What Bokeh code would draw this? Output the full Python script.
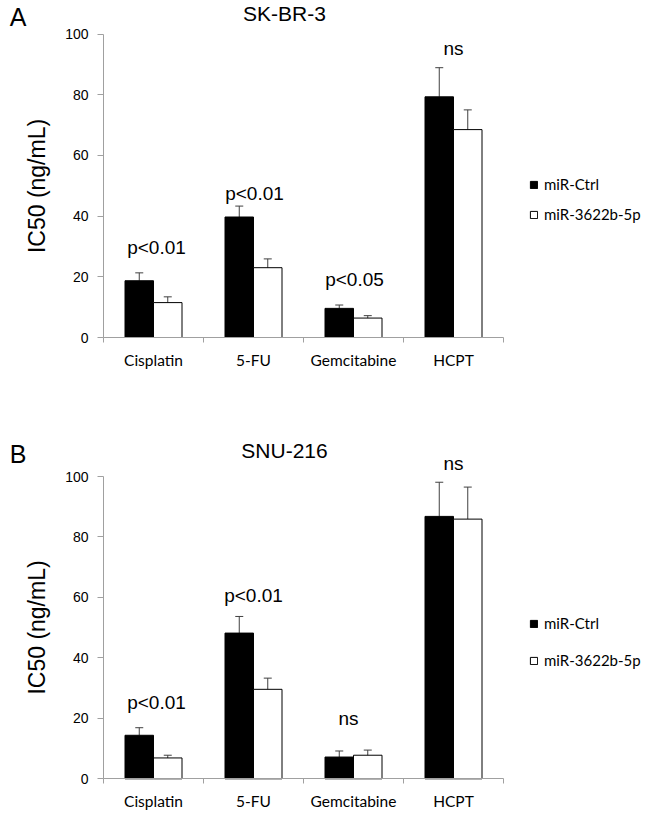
from bokeh.plotting import figure
from bokeh.models import (Range1d, FixedTicker, ColumnDataSource, Whisker, TeeHead,
                          Label, LabelSet, Legend, LegendItem)
from bokeh.core.properties import value
from bokeh.layouts import column
from bokeh.embed import file_html
from bokeh.resources import INLINE
import numpy as np

# ---------------- data ----------------
categories = ["Cisplatin", "5-FU", "Gemcitabine", "HCPT"]
series_names = ["miR-Ctrl", "miR-3622b-5p"]
y_ticks = [0, 20, 40, 60, 80, 100]

# Panel A: SK-BR-3
a_title = "SK-BR-3"
a_ctrl = [18.7, 39.7, 9.6, 79.3]
a_ctrl_err = [2.6, 3.6, 1.1, 9.6]
a_mir = [11.5, 23.0, 6.4, 68.5]
a_mir_err = [1.9, 2.9, 0.8, 6.5]
a_sig = ["p<0.01", "p<0.01", "p<0.05", "ns"]

# Panel B: SNU-216
b_title = "SNU-216"
b_ctrl = [14.4, 48.2, 7.2, 86.8]
b_ctrl_err = [2.5, 5.5, 2.0, 11.3]
b_mir = [6.9, 29.6, 7.8, 85.9]
b_mir_err = [0.9, 3.7, 1.7, 10.6]
b_sig = ["p<0.01", "p<0.01", "ns", "ns"]

# ---------------- layout / style ----------------
BAR_W = 0.285
ERR_COLOR = "#404040"
AXIS_COLOR = "#a0a0a0"
TXT_FONT = "Liberation Sans"
CAT_FONT = "Lato"
FIG_W = 648
PAGE_OFF = 0          # page x of figure left edge
AXIS_X = 103          # page x of the y axis
PX_PER_CAT = 100      # pixels per category


def make_panel(letter, title, ctrl, ctrl_err, mir, mir_err, sig, geom):
    n = len(categories)
    centers = np.arange(n) + 0.5
    # ranges chosen so that the frame fills the whole figure
    x0 = (PAGE_OFF - AXIS_X) / PX_PER_CAT
    x1 = (PAGE_OFF + FIG_W - AXIS_X) / PX_PER_CAT
    ppu = geom["px_per_unit"]
    y1 = (geom["zero_y"] - geom["page_top"]) / ppu
    y0 = (geom["zero_y"] - geom["page_top"] - geom["height"]) / ppu
    p = figure(width=FIG_W, height=geom["height"],
               x_range=Range1d(x0, x1), y_range=Range1d(y0, y1),
               output_backend="svg", toolbar_location=None,
               min_border=0)
    p.outline_line_color = None
    p.xgrid.visible = False
    p.ygrid.visible = False
    p.background_fill_color = "white"

    # x axis: category labels at centres, separators as minor ticks
    xa = p.xaxis[0]
    xa.fixed_location = 0
    xa.bounds = (0, n)
    xa.ticker = FixedTicker(ticks=list(centers), minor_ticks=list(range(n + 1)))
    xa.major_label_overrides = {float(c): cat for c, cat in zip(centers, categories)}
    xa.major_tick_out = 0
    xa.major_tick_in = 0
    xa.minor_tick_out = 5
    xa.minor_tick_in = 0
    xa.minor_tick_line_color = AXIS_COLOR
    xa.axis_line_color = AXIS_COLOR
    xa.major_label_text_font = CAT_FONT
    xa.major_label_text_font_size = "15.5px"
    xa.major_label_text_color = "black"
    xa.major_label_standoff = 8

    ya = p.yaxis[0]
    ya.fixed_location = 0
    ya.bounds = (y_ticks[0], y_ticks[-1])
    ya.ticker = FixedTicker(ticks=y_ticks, minor_ticks=[])
    ya.major_tick_out = 6
    ya.major_tick_in = 0
    ya.major_tick_line_color = AXIS_COLOR
    ya.axis_line_color = AXIS_COLOR
    ya.major_label_text_font = TXT_FONT
    ya.major_label_text_font_size = "14px"
    ya.major_label_text_color = "black"
    ya.major_label_standoff = 9
    ya.axis_label = "IC50 (ng/mL)"
    ya.axis_label_text_font = TXT_FONT
    ya.axis_label_text_font_size = "23px"
    ya.axis_label_text_font_style = "normal"
    ya.axis_label_text_color = "black"
    ya.axis_label_standoff = 12

    x_ctrl = centers - BAR_W / 2
    x_mir = centers + BAR_W / 2
    r1 = p.vbar(x=x_ctrl, top=ctrl, width=BAR_W, bottom=0,
                fill_color="black", line_color="black", line_width=1)
    r2 = p.vbar(x=x_mir, top=mir, width=BAR_W, bottom=0,
                fill_color="white", line_color="black", line_width=1)

    ctrl_a = np.array(ctrl)
    mir_a = np.array(mir)
    src_c = ColumnDataSource(dict(x=x_ctrl, upper=ctrl_a + np.array(ctrl_err), lower=ctrl_a))
    src_m = ColumnDataSource(dict(x=x_mir, upper=mir_a + np.array(mir_err),
                                  lower=mir_a - np.array(mir_err)))
    p.add_layout(Whisker(base="x", upper="upper", lower="lower", source=src_c,
                         line_color=ERR_COLOR, line_width=1,
                         upper_head=TeeHead(size=8, line_color=ERR_COLOR, line_width=1),
                         lower_head=None))
    p.add_layout(Whisker(base="x", upper="upper", lower="lower", source=src_m,
                         line_color=ERR_COLOR, line_width=1,
                         upper_head=TeeHead(size=8, line_color=ERR_COLOR, line_width=1),
                         lower_head=TeeHead(size=8, line_color=ERR_COLOR, line_width=1)))

    sig_src = ColumnDataSource(dict(x=geom["sig_x"], y=geom["sig_y"], text=sig))
    p.add_layout(LabelSet(x="x", y="y", text="text", source=sig_src,
                          text_align="center", text_baseline="middle",
                          text_font=value(TXT_FONT), text_font_size=value("19px"),
                          text_color="black"))

    p.add_layout(Label(x=-0.855, y=geom["letter_y"], text=letter,
                       text_align="center", text_baseline="middle",
                       text_font=TXT_FONT, text_font_size="25px", text_color="black"))
    p.add_layout(Label(x=1.81, y=geom["title_y"], text=title,
                       text_align="center", text_baseline="middle",
                       text_font=TXT_FONT, text_font_size="21px", text_color="black"))

    legend = Legend(items=[LegendItem(label=series_names[0], renderers=[r1]),
                           LegendItem(label=series_names[1], renderers=[r2])],
                    location=geom["legend_loc"],
                    border_line_color=None, background_fill_alpha=0,
                    padding=0, margin=0, glyph_width=9, glyph_height=9,
                    label_standoff=6, spacing=geom["legend_spacing"], label_height=18,
                    label_text_font=CAT_FONT, label_text_font_size="15px",
                    label_text_color="black")
    p.add_layout(legend)
    return p


geom_a = dict(height=400, page_top=0, zero_y=337.0, px_per_unit=3.035,
              sig_x=[0.53, 1.51, 2.51, 3.5], sig_y=[29.7, 47.4, 19.1, 95.2],
              letter_y=105.6, title_y=106.9, legend_loc=(529, 177), legend_spacing=12)
geom_b = dict(height=414, page_top=400, zero_y=778.3, px_per_unit=3.023,
              sig_x=[0.53, 1.5, 2.45, 3.5], sig_y=[25.3, 60.6, 19.9, 104.3],
              letter_y=107.6, title_y=108.7, legend_loc=(529, 145), legend_spacing=19)

pa = make_panel("A", a_title, a_ctrl, a_ctrl_err, a_mir, a_mir_err, a_sig, geom_a)
pb = make_panel("B", b_title, b_ctrl, b_ctrl_err, b_mir, b_mir_err, b_sig, geom_b)

layout = column(pa, pb, spacing=0)
open("out.html", "w").write(file_html(layout, INLINE))
